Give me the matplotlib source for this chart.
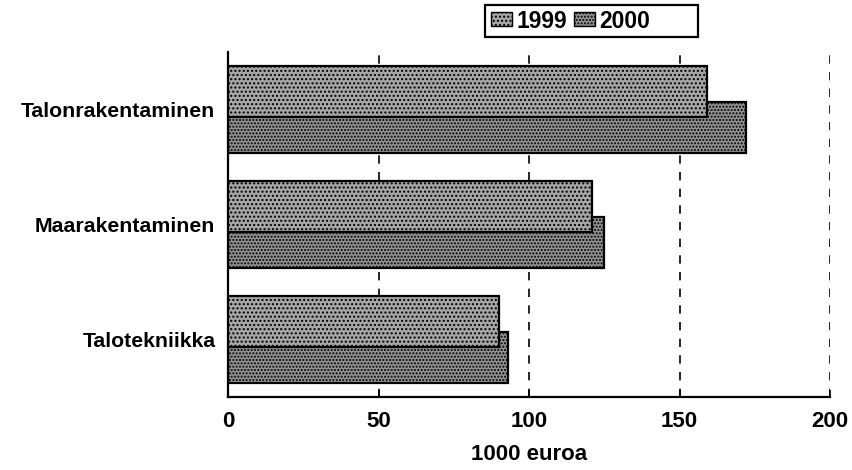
import matplotlib
matplotlib.use("Agg")
import matplotlib.pyplot as plt
from matplotlib.patches import Patch, Rectangle
import numpy as np

categories = ["Talonrakentaminen", "Maarakentaminen", "Talotekniikka"]
series_names = ["1999", "2000"]
values_1999 = [159, 121, 90]
values_2000 = [172, 125, 93]
xticks = [0, 50, 100, 150, 200]

plt.rcParams['font.family'] = ['Liberation Sans', 'DejaVu Sans']
plt.rcParams['hatch.linewidth'] = 1.0

fig = plt.figure(figsize=(8.52, 4.70), dpi=100)
ax = fig.add_axes([228/852, 1-397/470, (830-228)/852, (397-52)/470])

y = np.arange(len(categories))
h = 0.44
off = 0.157
c1999 = '#a6a6a6'
c2000 = '#939393'

ax.barh(y + off, values_2000, height=h, color=c2000, edgecolor='black',
        hatch='.....', linewidth=1.6, zorder=2)
ax.barh(y - off, values_1999, height=h, color=c1999, edgecolor='black',
        hatch='....', linewidth=1.6, zorder=3)

ax.set_xlim(0, 200)
ax.set_ylim(2.5, -0.5)
ax.set_yticks(y)
ax.set_yticklabels(categories, fontsize=15.3, fontweight='bold')
ax.set_xticks(xticks)
ax.set_xticklabels([str(t) for t in xticks], fontsize=16, fontweight='bold')
ax.tick_params(axis='y', length=0, pad=9)
ax.tick_params(axis='x', direction='in', length=5, width=1.2, pad=10)

for t in xticks[1:]:
    ax.axvline(t, color='black', linestyle=(0, (5, 5)), linewidth=1.2, zorder=1)

for s in ['top', 'right']:
    ax.spines[s].set_visible(False)
for s in ['left', 'bottom']:
    ax.spines[s].set_linewidth(1.6)

fig.text(529/852, 1-454/470, "1000 euroa", ha='center', va='center',
         fontsize=16, fontweight='bold')

# legend frame (wider than content, as in the original)
fig.patches.append(Rectangle((485/852, 1-37/470), (698-485)/852, 32/470,
                             transform=fig.transFigure, facecolor='white',
                             edgecolor='black', linewidth=1.6, zorder=5))
handles = [Patch(facecolor=c1999, edgecolor='black', hatch='....', label=series_names[0]),
           Patch(facecolor=c2000, edgecolor='black', hatch='.....', label=series_names[1])]
leg = fig.legend(handles=handles, loc='center left', bbox_to_anchor=(491/852, 1-21/470),
                 ncol=2, frameon=False, prop={'weight': 'bold', 'size': 16.5},
                 handlelength=0.93, handleheight=0.55, handletextpad=0.18,
                 columnspacing=0.3, borderpad=0.0, borderaxespad=0.0)
leg.set_zorder(6)

fig.savefig("out.png", dpi=100, facecolor='white')
